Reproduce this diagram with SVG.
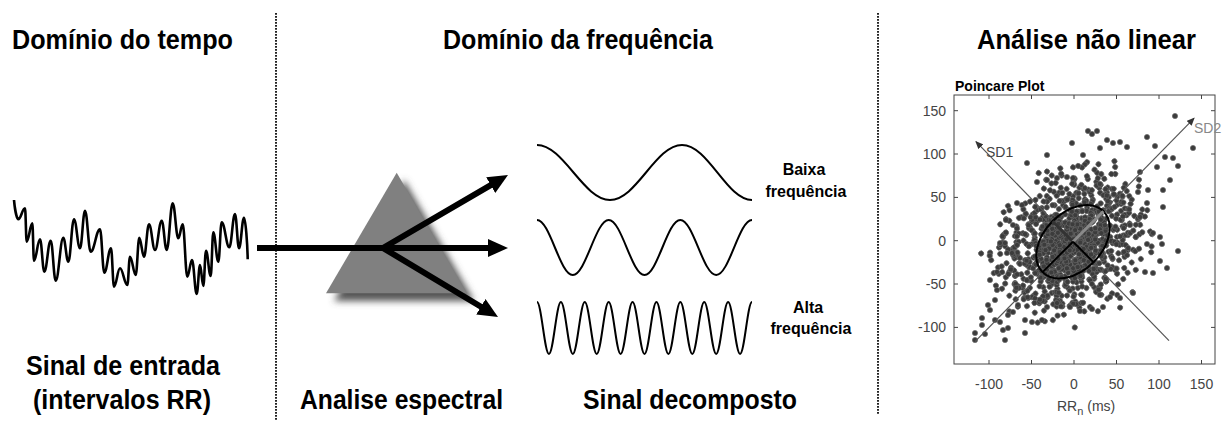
<svg xmlns="http://www.w3.org/2000/svg" width="1232" height="421" viewBox="0 0 1232 421">
<style>
.t{font-family:"Liberation Sans",Arial,sans-serif;font-weight:bold;fill:#000}
.h{font-size:27px}
.s{font-size:16px}
.ax{font-family:"Liberation Sans",Arial,sans-serif;font-size:14px;fill:#444}
.div{stroke:#222;stroke-width:2;stroke-dasharray:1.8 1.2;fill:none}
.wave{fill:none;stroke:#000;stroke-width:2}
.arr{fill:none;stroke:#000;stroke-width:6;stroke-linejoin:miter}
.sd{stroke:#555;stroke-width:1.2;fill:none}
.tick{stroke:#444;stroke-width:1;fill:none}
</style>
<defs>
<marker id="ah" markerUnits="userSpaceOnUse" viewBox="0 0 20 18" refX="6" refY="9" markerWidth="20" markerHeight="18" orient="auto-start-reverse"><path d="M0,0 L20,9 L0,18 z" fill="#000"/></marker>
<marker id="sa" markerUnits="userSpaceOnUse" viewBox="0 0 8 7" refX="7" refY="3.5" markerWidth="8" markerHeight="7" orient="auto"><path d="M0,0 L8,3.5 L0,7 z" fill="#333"/></marker>
<marker id="dot" markerUnits="userSpaceOnUse" viewBox="0 0 8 8" refX="4" refY="4" markerWidth="8" markerHeight="8"><circle cx="4" cy="4" r="2.6" fill="#3c3c3c" stroke="#666" stroke-width="0.7"/></marker>
<filter id="blur" x="-30%" y="-30%" width="160%" height="160%"><feGaussianBlur stdDeviation="3.5"/></filter>
<polyline id="cl" fill="none" stroke="none" marker-start="url(#dot)" marker-mid="url(#dot)" marker-end="url(#dot)" points="4,-4 -14,7 24,12 -30,-15 10,23 -5,-28 37,-8 -44,3 18,-19 -22,26 50,18 -11,-40 31,32 -53,-23 6,44 60,-14 -36,38 43,-34 -66,10 14,-51 -2,12 20,2 -18,-5 11,-12 -8,19 29,-26 -34,-3 40,7 -24,-30 2,32 54,-2 -47,-38 26,47 -70,-7 72,26 -14,-53 48,41 -58,30 66,-32 -42,51 13,17 -26,14 34,-14 -7,-20 17,37 -49,-13 46,24 -19,-44 58,5 -62,22 0,0 -11,-3 7,8 -4,26 23,-35 -40,-24 78,-4 -78,-34 36,60 -30,-60"/>
<polyline id="cl2" fill="none" stroke="none" marker-start="url(#dot)" marker-mid="url(#dot)" marker-end="url(#dot)" points="2,-2 -8,4 13,7 -17,-8 6,13 -3,-15 20,-4 -24,2 10,-10 -12,14 28,10 -6,-22 17,18 -29,-13 3,24 33,-8 -20,21 24,-19 -36,6 8,-28 11,1 -10,-3 16,-14 -19,-2 22,4 -13,-17 30,-1 -26,-21 14,26 -39,-4"/>
</defs>
<rect width="1232" height="421" fill="#fff"/>

<g id="dividers">
<line class="div" x1="276" y1="13" x2="276" y2="421"/>
<line class="div" x1="878" y1="13" x2="878" y2="414"/>
</g>

<g id="title-time"><text class="t h" x="12" y="49" textLength="221" lengthAdjust="spacingAndGlyphs">Domínio do tempo</text></g>
<g id="title-freq"><text class="t h" x="443" y="49" textLength="270" lengthAdjust="spacingAndGlyphs">Domínio da frequência</text></g>
<g id="title-nonlinear"><text class="t h" x="977" y="49" textLength="219" lengthAdjust="spacingAndGlyphs">Análise não linear</text></g>

<g id="rr-signal">
<path fill="none" stroke="#000" stroke-width="2.6" stroke-linejoin="round" d="M14,200 C14.6,207 16.6,219.3 18.3,219.3 C21,219.3 22.3,208.3 25,208.3 C25.7,208.3 26,241.7 26.7,241.7 C28.9,241.7 30.1,223.3 32.3,223.3 C33,223.3 33.3,260.7 34,260.7 C36.4,260.7 37.6,239.3 40,239.3 C41.7,239.3 42.6,271.7 44.3,271.7 C46.9,271.7 48.1,240.7 50.7,240.7 C52.7,240.7 53.7,280.7 55.7,280.7 C58.7,280.7 60.3,237.7 63.3,237.7 C65.3,237.7 66.3,261.7 68.3,261.7 C70.6,261.7 71.7,219.3 74,219.3 C76.4,219.3 77.6,248.3 80,248.3 C82,248.3 83,210.7 85,210.7 C87.3,210.7 88.4,251.7 90.7,251.7 C94.4,251.7 96.3,229.3 100,229.3 C101.7,229.3 102.6,272.7 104.3,272.7 C107,272.7 108.3,248.3 111,248.3 C112.2,248.3 112.8,286.7 114,286.7 C116.4,286.7 117.6,268.3 120,268.3 C122.9,268.3 124.4,285 127.3,285 C128.4,285 128.9,256.7 130,256.7 C132.3,256.7 133.4,275 135.7,275 C137.1,275 137.9,237.7 139.3,237.7 C141.2,237.7 142.1,256.7 144,256.7 C146,256.7 147,224.3 149,224.3 C151.4,224.3 152.6,250 155,250 C157.7,250 159,220.7 161.7,220.7 C163.7,220.7 164.7,250 166.7,250 C169.1,250 170.3,203.3 172.7,203.3 C174.9,203.3 176.1,238.3 178.3,238.3 C180.1,238.3 180.9,224.3 182.7,224.3 C184.5,224.3 185.5,276.7 187.3,276.7 C189.2,276.7 190.1,260 192,260 C193.9,260 194.8,294 196.7,294 C198,294 198.7,265 200,265 C201.3,265 202,286 203.3,286 C204.4,286 204.9,250.7 206,250.7 C207.9,250.7 208.8,276 210.7,276 C211.7,276 212.3,232.3 213.3,232.3 C215.3,232.3 216.3,261.7 218.3,261.7 C219.7,261.7 220.3,222.3 221.7,222.3 C224.7,222.3 226.3,247.3 229.3,247.3 C231.6,247.3 232.7,214 235,214 C236.6,214 237.4,248.3 239,248.3 C241,248.3 242,217.7 244,217.7 C245.5,217.7 247.5,245 247.7,259.3"/>
<text class="t h" x="26" y="375" textLength="194" lengthAdjust="spacingAndGlyphs">Sinal de entrada</text>
<text class="t h" x="33" y="409" textLength="178" lengthAdjust="spacingAndGlyphs">(intervalos RR)</text>
</g>

<g id="prism">
<polygon points="404,180 334,301 474,301" fill="#555" filter="url(#blur)"/>
<polygon points="396.7,172.7 326,293.3 467,293.3" fill="#808080"/>
<text class="t h" x="300" y="409" textLength="203" lengthAdjust="spacingAndGlyphs">Analise espectral</text>
</g>

<g id="waves">
<path class="wave" d="M537,145 C563.5,145 583.5,200 610,200 S655.5,145 682,145 S726.5,200 752,200"/>
<path class="wave" d="M537,220 C550,220 559.8,275 572.8,275 S595.6,220 608.7,220 S631.5,275 644.5,275 S667.3,220 680.3,220 S703.1,275 716.2,275 S739,220 752,220"/>
<path class="wave" d="M537,302 C541.35,302 544.59,354 548.94,354 S556.54,302 560.89,302 S568.48,354 572.83,354 S580.43,302 584.78,302 S592.37,354 596.72,354 S604.32,302 608.67,302 S616.26,354 620.61,354 S628.21,302 632.56,302 S640.15,354 644.5,354 S652.09,302 656.44,302 S664.04,354 668.39,354 S675.98,302 680.33,302 S687.93,354 692.28,354 S699.87,302 704.22,302 S711.82,354 716.17,354 S723.76,302 728.11,302 S735.71,354 740.06,354 S747.65,302 752,302"/>
<text class="t s" x="804" y="175" text-anchor="middle">Baixa</text>
<text class="t s" x="806" y="197" text-anchor="middle">frequência</text>
<text class="t s" x="808" y="313" text-anchor="middle">Alta</text>
<text class="t s" x="811" y="334" text-anchor="middle">frequência</text>
<text class="t h" x="583" y="409" textLength="214" lengthAdjust="spacingAndGlyphs">Sinal decomposto</text>
</g>

<g id="poincare-plot">
<text class="t" x="955" y="91" font-size="14px" fill="#222">Poincare Plot</text>
<rect x="954" y="95" width="261" height="269" fill="none" stroke="#444" stroke-width="1"/>
<path class="tick" d="M954,110.7h4M954,154h4M954,197.4h4M954,240.7h4M954,284h4M954,327.4h4M1215,110.7h-4M1215,154h-4M1215,197.4h-4M1215,240.7h-4M1215,284h-4M1215,327.4h-4M989,364v-4M1031.5,364v-4M1074,364v-4M1116.5,364v-4M1159,364v-4M1201.5,364v-4M989,95v4M1031.5,95v4M1074,95v4M1116.5,95v4M1159,95v4M1201.5,95v4"/>
<g class="ax" text-anchor="end">
<text x="946" y="115.7">150</text><text x="946" y="159">100</text><text x="946" y="202.4">50</text><text x="946" y="245.7">0</text><text x="946" y="289">-50</text><text x="946" y="332.4">-100</text>
</g>
<g class="ax" text-anchor="middle">
<text x="989" y="389">-100</text><text x="1031.5" y="389">-50</text><text x="1074" y="389">0</text><text x="1116.5" y="389">50</text><text x="1159" y="389">100</text><text x="1201.5" y="389">150</text>
</g>
<text class="ax" x="1057" y="411">RR<tspan dy="4" font-size="11px">n</tspan><tspan dy="-4"> (ms)</tspan></text>
<g id="scatter">
<use href="#cl" transform="translate(1073,242) rotate(-45)"/>
<use href="#cl" transform="translate(1073,242) rotate(135) translate(3,4)"/>
<use href="#cl" transform="translate(1073,242) rotate(-45) scale(1,-1) translate(-4,2)"/>
<use href="#cl" transform="translate(1073,242) rotate(-45) scale(-1,1) translate(5,-3)"/>
<use href="#cl" transform="translate(1073,242) rotate(-32) translate(-6,-5)"/>
<use href="#cl" transform="translate(1073,242) rotate(148) translate(7,2)"/>
<use href="#cl" transform="translate(1073,242) rotate(-45) scale(1,-1) rotate(11) translate(2,7)"/>
<use href="#cl" transform="translate(1073,242) rotate(-45) scale(-1,1) rotate(-9) translate(-3,-7)"/>
<use href="#cl" transform="translate(1073,242) rotate(-62) translate(8,6)"/>
<use href="#cl" transform="translate(1073,242) rotate(118) translate(-8,5)"/>
<use href="#cl" transform="translate(1073,242) rotate(-45) scale(1,-1) rotate(-20) translate(-9,-2)"/>
<use href="#cl" transform="translate(1073,242) rotate(-45) scale(-1,1) rotate(22) translate(6,9)"/>
<use href="#cl" transform="translate(1073,242) rotate(-24) translate(-2,10)"/>
<use href="#cl" transform="translate(1073,242) rotate(157) translate(10,-6)"/>
<use href="#cl2" transform="translate(1073,242) rotate(-45)"/>
<use href="#cl2" transform="translate(1073,242) rotate(130) translate(4,-3)"/>
<use href="#cl2" transform="translate(1073,242) rotate(-45) scale(1,-1) rotate(17) translate(-5,4)"/>
<use href="#cl2" transform="translate(1073,242) rotate(-45) scale(-1,1) rotate(-14) translate(3,6)"/>
<use href="#cl2" transform="translate(1073,242) rotate(-70) translate(-4,-6)"/>
<use href="#cl2" transform="translate(1073,242) rotate(105) translate(7,3)"/>
<polyline fill="none" stroke="none" marker-start="url(#dot)" marker-mid="url(#dot)" marker-end="url(#dot)" points="1175,116 1193,148 1147,137 1155,146 1088,131 1097,131 1092,134 1072,143 1027,163 1047,155 1083,155 1100,148 1107,140 1113,143 1120,142 1127,147 1165,157 1173,158 1178,166 1157,167 1170,180 1140,172 1148,190 1163,190 1138,192 1147,203 1163,207 1037,182 1047,180 1057,178 1067,177 1017,203 1022,205 1006,220 1013,225 1160,237 1153,233 1130,225 1140,217 1178,251 1162,244 1147,244 1160,261 1167,268 1153,273 1145,272 1133,293 1120,298 1110,297 1103,307 1092,309 1080,311 1070,307 1057,303 1047,307 1042,320 1032,322 1025,320 1025,333 1018,305 1013,312 1008,315 1000,322 1003,330 995,320 990,310 988,305 995,300 982,318 982,325 975,333 975,340 985,334 1005,340 1008,328 997,290 990,280 997,272 1007,253 1012,253 1017,245 1000,243 1005,243 1020,258"/>
</g>
<path class="sd" d="M1169,340.7 L976,141.7" marker-end="url(#sa)"/>
<path class="sd" d="M975,341.7 L1194,118.3" marker-end="url(#sa)"/>
<text class="ax" x="986" y="157" fill="#333">SD1</text>
<text class="ax" x="1194" y="133" style="fill:#888">SD2</text>
<ellipse cx="1073" cy="241.7" rx="43" ry="29" transform="rotate(-45 1073 241.7)" fill="none" stroke="#000" stroke-width="2"/>
<path d="M1073,241.7 L1052.5,221.2" stroke="#333" stroke-width="3"/>
<path d="M1073,241.7 L1103.4,211.3" stroke="#8a8a8a" stroke-width="3"/>
<path d="M1073,241.7 L1042.6,272.1 M1073,241.7 L1093.5,262.2" stroke="#000" stroke-width="2"/>
</g>

<g id="connectors">
<path class="arr" d="M257,248 L494,248" marker-end="url(#ah)"/>
<path class="arr" d="M486,309.8 L383,248 L495.9,182.1" marker-start="url(#ah)" marker-end="url(#ah)"/>
</g>
</svg>
